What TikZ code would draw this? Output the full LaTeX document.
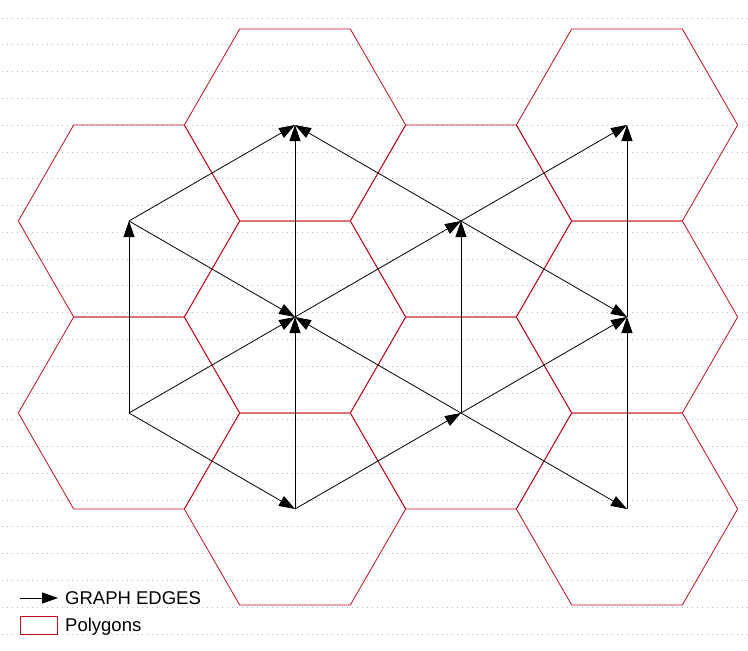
\documentclass[tikz,border=0pt]{standalone}
\usepackage{fontspec}
\setmainfont{Liberation Sans}
\usetikzlibrary{arrows.meta, positioning}
\definecolor{hexred}{RGB}{190,15,30}

\begin{document}
\begin{tikzpicture}[x=1pt, y=-1pt,
    edge/.style={draw=black, line width=0.8pt, -{Triangle[length=16pt,width=11pt]}},
    hexcell/.style={draw=hexred, line width=0.8pt},
    gridline/.style={draw=black!28, line width=0.8pt, dash pattern=on 0.8pt off 4.2pt},
    legtext/.style={anchor=base west, inner sep=0pt, font=\fontsize{18.5}{21}\selectfont}]
  \useasboundingbox (0,0) rectangle (748,651);
  % background dots
  \foreach \k in {0,...,23}
    \draw[gridline] (2,{18+26.78*\k}) -- (748,{18+26.78*\k});

  % graph nodes (hexagon centres)
  \coordinate (a1) at (129,221);
  \coordinate (a2) at (129,413);
  \coordinate (b1) at (295,125);
  \coordinate (b2) at (295,317);
  \coordinate (b3) at (295,509);
  \coordinate (c1) at (461,221);
  \coordinate (c2) at (461,413);
  \coordinate (d1) at (627,125);
  \coordinate (d2) at (627,317);
  \coordinate (d3) at (627,509);

  % polygons
  \foreach \c in {a1,a2,b1,b2,b3,c1,c2,d1,d2,d3}
    \draw[hexcell] ([xshift=-110.67pt]\c) -- ([xshift=-55.33pt,yshift=96pt]\c)
      -- ([xshift=55.33pt,yshift=96pt]\c) -- ([xshift=110.67pt]\c)
      -- ([xshift=55.33pt,yshift=-96pt]\c) -- ([xshift=-55.33pt,yshift=-96pt]\c) -- cycle;

  % graph edges
  \draw[edge] (a2) -- (a1);
  \draw[edge] (a1) -- (b1);
  \draw[edge] (a1) -- (b2);
  \draw[edge] (a2) -- (b2);
  \draw[edge] (a2) -- (b3);
  \draw[edge] (b2) -- (b1);
  \draw[edge] (b3) -- (b2);
  \draw[edge] (b2) -- (c1);
  \draw[edge] (b3) -- (c2);
  \draw[edge] (c1) -- (b1);
  \draw[edge] (c2) -- (b2);
  \draw[edge] (c2) -- (c1);
  \draw[edge] (c1) -- (d1);
  \draw[edge] (c1) -- (d2);
  \draw[edge] (c2) -- (d2);
  \draw[edge] (c2) -- (d3);
  \draw[edge] (d2) -- (d1);
  \draw[edge] (d3) -- (d2);

  % legend
  \coordinate (legstart) at (20,598);
  \node[legtext] (legedges) at (65,604) {GRAPH EDGES};
  \coordinate (legend) at (58,598);
  \draw[edge] (legstart) -- (legend);
  \node[draw=hexred, line width=0.8pt, minimum width=37pt, minimum height=18pt, inner sep=0pt] (legbox) at (38.5,625) {};
  \node[legtext] (legpoly) at (65,631.5) {Polygons};
\end{tikzpicture}
\end{document}
